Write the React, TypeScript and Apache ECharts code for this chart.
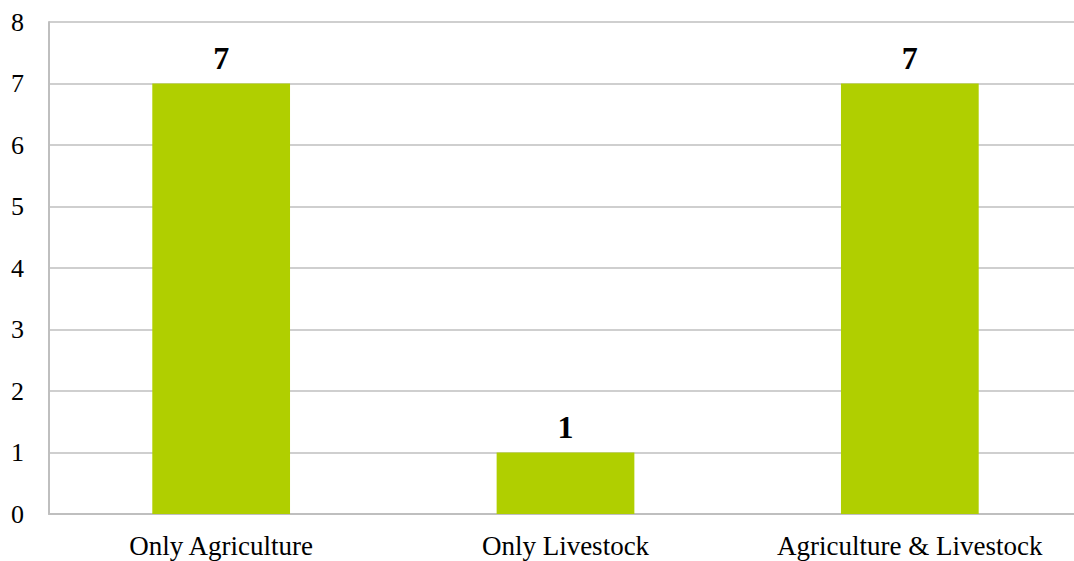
import React, { useEffect, useRef } from "react";
import * as echarts from "echarts";

const categories = ["Only Agriculture", "Only Livestock", "Agriculture & Livestock"];
const counts = [7, 1, 7];
const yTicks = [0, 1, 2, 3, 4, 5, 6, 7, 8];

const FONT = '"Liberation Serif", "Times New Roman", serif';

export default function App() {
  const ref = useRef<HTMLDivElement>(null);

  useEffect(() => {
    if (!ref.current) return;
    const chart = echarts.init(ref.current, undefined, { renderer: "svg" });
    chart.setOption({
      animation: false,
      backgroundColor: "#ffffff",
      grid: { left: 49, right: 0, top: 22, bottom: 47, containLabel: false },
      xAxis: {
        type: "category",
        data: categories,
        axisLine: { show: true, lineStyle: { color: "#bfbfbf", width: 2 } },
        axisTick: { show: false },
        axisLabel: {
          interval: 0,
          hideOverlap: false,
          fontFamily: FONT,
          fontSize: 27,
          color: "#000",
          margin: 18,
        },
      },
      yAxis: {
        type: "value",
        min: yTicks[0],
        max: yTicks[yTicks.length - 1],
        interval: 1,
        axisLine: { show: true, lineStyle: { color: "#bfbfbf", width: 2 } },
        axisTick: { show: false },
        splitLine: { show: true, lineStyle: { color: "#bfbfbf", width: 1.5 } },
        axisLabel: { fontFamily: FONT, fontSize: 26, color: "#000", margin: 25 },
      },
      series: [
        {
          type: "bar",
          data: counts,
          barWidth: "40%",
          itemStyle: { color: "#b0cf00" },
          label: {
            show: true,
            position: "top",
            distance: 10,
            fontFamily: FONT,
            fontSize: 32,
            fontWeight: "bold",
            color: "#000",
          },
        },
      ],
    });
    return () => chart.dispose();
  }, []);

  return (
    <div
      style={{
        position: "absolute",
        left: 0,
        top: 0,
        width: 1074,
        height: 561,
        overflow: "hidden",
        background: "#fff",
      }}
    >
      <div ref={ref} style={{ width: 1082, height: 561 }} />
    </div>
  );
}
